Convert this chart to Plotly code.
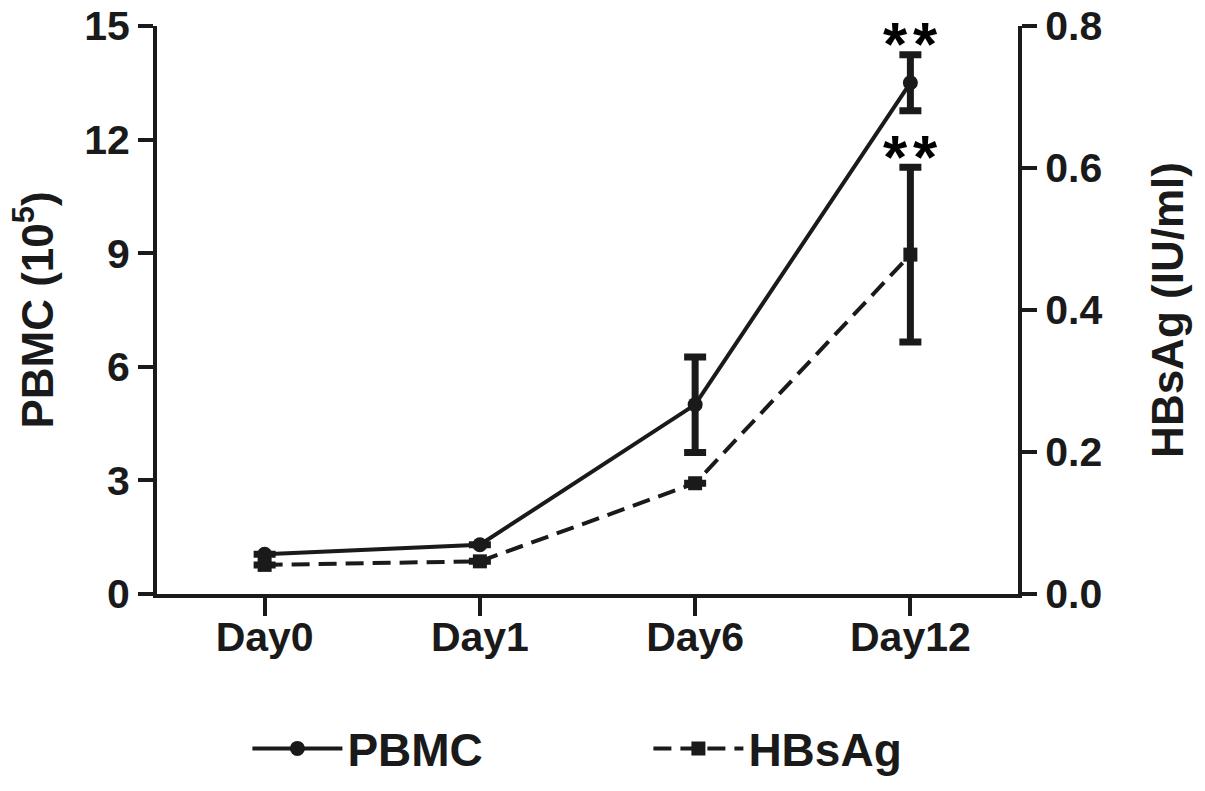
"""
PBMC count and HBsAg level over culture days, dual y-axis line chart.
"""
import plotly.graph_objects as go

days = ["Day0", "Day1", "Day6", "Day12"]

pbmc = [1.05, 1.3, 5.0, 13.5]
pbmc_err = [0, 0, 1.26, 0.74]

hbsag = [0.041, 0.046, 0.156, 0.478]
hbsag_err = [0, 0, 0, 0.123]

left_ticks = [0, 3, 6, 9, 12, 15]
right_ticks = [0.0, 0.2, 0.4, 0.6, 0.8]

FONT = "Liberation Sans, Arial, sans-serif"
INK = "#1a1a1a"

fig = go.Figure()

fig.add_trace(go.Scatter(
    x=days,
    y=pbmc,
    name="PBMC",
    mode="lines+markers",
    line={"color": INK, "width": 4},
    marker={"symbol": "circle", "size": 15, "color": INK},
    error_y={"type": "data", "array": pbmc_err, "visible": True,
             "color": INK, "thickness": 7, "width": 11},
))

fig.add_trace(go.Scatter(
    x=days,
    y=hbsag,
    name="HBsAg",
    yaxis="y2",
    mode="lines+markers",
    line={"color": INK, "width": 4, "dash": "18px,9px"},
    marker={"symbol": "square", "size": 14, "color": INK},
    error_y={"type": "data", "array": hbsag_err, "visible": True,
             "color": INK, "thickness": 7, "width": 11},
))

# significance marks (two stars) above the day 12 error bars
star_font = {"size": 62, "color": "black", "family": FONT, "weight": "bold"}
for shift in (-15, 15):
    fig.add_annotation(x=days[3], y=pbmc[3] + pbmc_err[3], yref="y", text="*",
                       showarrow=False, yanchor="middle", yshift=11, xshift=shift,
                       font=star_font)
    fig.add_annotation(x=days[3], y=hbsag[3] + hbsag_err[3], yref="y2", text="*",
                       showarrow=False, yanchor="middle", yshift=11, xshift=shift,
                       font=star_font)

axis_common = {
    "showline": True, "linewidth": 4, "linecolor": INK,
    "ticks": "outside", "tickwidth": 4, "tickcolor": INK,
    "showgrid": False, "zeroline": False, "automargin": False,
    "ticklabeloverflow": "allow",
    "tickfont": {"size": 41, "color": INK, "family": FONT, "weight": "bold"},
}

fig.update_layout(
    width=1205,
    height=791,
    paper_bgcolor="white",
    plot_bgcolor="white",
    font={"family": FONT, "color": INK, "weight": "bold"},
    margin={"l": 157, "r": 187, "t": 26, "b": 197, "autoexpand": False},
    xaxis={**axis_common, "ticklen": 18, "range": [-0.5, 3.5],
           "type": "category", "ticklabelstandoff": -14},
    yaxis={**axis_common, "ticklen": 15, "range": [0, 15], "tickvals": left_ticks,
           "title": {"text": "PBMC (10<sup>5</sup>)", "standoff": 18,
                     "font": {"size": 44, "family": FONT, "weight": "bold"}}},
    yaxis2={**axis_common, "ticklen": 15, "range": [0, 0.8], "tickvals": right_ticks,
            "tickformat": ".1f", "overlaying": "y", "side": "right",
            "title": {"text": "HBsAg (IU/ml)", "standoff": 52,
                      "font": {"size": 44, "family": FONT, "weight": "bold"}}},
    showlegend=True,
    legend={"orientation": "h", "x": 0.105, "xanchor": "left",
            "y": -0.272, "yanchor": "middle",
            "font": {"size": 46, "family": FONT, "weight": "bold"},
            "itemwidth": 90, "entrywidth": 296, "bgcolor": "rgba(0,0,0,0)"},
)

# drop the default page margin so the figure fills the window exactly
fig.write_html("out.html", config={"displayModeBar": False},
               post_script="document.body.style.margin = '0';")
